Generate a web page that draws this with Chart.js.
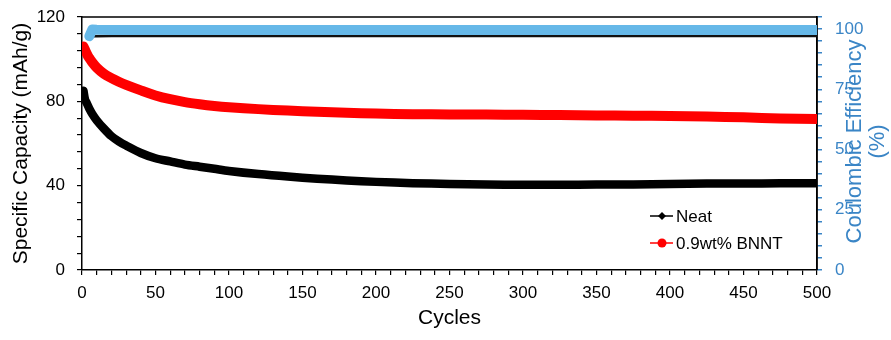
<!DOCTYPE html>
<html><head><meta charset="utf-8">
<script src="https://cdn.jsdelivr.net/npm/chart.js@4.4.1/dist/chart.umd.min.js"></script>
<style>html,body{margin:0;padding:0;background:#fff}</style>
</head><body>
<canvas id="c" width="891" height="340" style="width:891px;height:340px;display:block"></canvas>
<script>
// ---- data ----
const capacityCycles = [1,2,3,4,5,7,10,15,20,25,30,40,50,60,70,80,90,100,120,140,160,180,200,225,250,275,300,325,350,375,400,425,450,475,500];
const neatCapacity   = [85,81,79.5,78,76.5,74,71,67,63.5,61,59,55.5,53,51.5,50,49,48,47,45.5,44.3,43.3,42.5,41.8,41.2,40.8,40.5,40.4,40.4,40.5,40.6,40.8,41,41,41.1,41.1];
const bnntCapacity   = [106,104.5,103,101.5,100.5,98.5,96,93,91,89.3,87.8,85.2,82.8,81,79.6,78.6,77.8,77.2,76.3,75.6,75.1,74.6,74.2,73.9,73.8,73.7,73.6,73.5,73.3,73.2,73.1,72.8,72.4,71.9,71.6];
const ceCycles       = [5,7,10,20,40,70,100,150,200,250,300,350,400,450,500];
const bnntCE         = [97.0,99.8,99.7,99.6,99.6,99.6,99.6,99.6,99.6,99.6,99.6,99.6,99.6,99.6,99.6];
const neatCE         = [96.6,97.0,97.0,97.1,97.1,97.1,97.1,97.1,97.1,97.1,97.1,97.1,97.1,97.1,97.1];
const xTickLabels     = [0,50,100,150,200,250,300,350,400,450,500];
const leftTickLabels  = [0,40,80,120];
const rightTickLabels = [0,25,50,75,100];
const seriesNames = ['Neat','0.9wt% BNNT'];
const axisTitles = {x:'Cycles', left:'Specific Capacity (mAh/g)', right:['Coulombic Efficiency','(%)']};

const BLUE_AXIS = '#3a85c6';
const FONT = "'Liberation Sans', Arial, sans-serif";
const pts = (xs, ys) => xs.map((x, i) => ({x, y: ys[i]}));

const framePlugin = {
  id: 'frame',
  beforeDatasetsDraw(chart) {
    const {ctx, chartArea: a} = chart;
    ctx.save();
    ctx.strokeStyle = '#000';
    ctx.lineWidth = 1.5;
    ctx.beginPath();
    ctx.moveTo(a.left, a.top); ctx.lineTo(a.right, a.top); ctx.lineTo(a.right, a.bottom);
    ctx.stroke();
    ctx.restore();
  },
  afterDraw(chart) {
    const {ctx} = chart;
    ctx.save();
    ctx.fillStyle = BLUE_AXIS;
    ctx.font = '22px ' + FONT;
    ctx.textAlign = 'center';
    ctx.textBaseline = 'middle';
    const a = chart.chartArea;
    const cy = (a.top + a.bottom) / 2 - 2;
    [[855, axisTitles.right[0]], [878, axisTitles.right[1]]].forEach(([x, t]) => {
      ctx.save(); ctx.translate(x, cy); ctx.rotate(-Math.PI / 2); ctx.fillText(t, 0, 0); ctx.restore();
    });
    const items = [
      {name: seriesNames[0], color: '#000', y: 216, shape: 'diamond'},
      {name: seriesNames[1], color: '#ff0000', y: 243, shape: 'circle'}
    ];
    items.forEach(it => {
      ctx.strokeStyle = it.color; ctx.fillStyle = it.color; ctx.lineWidth = 1.5;
      ctx.beginPath(); ctx.moveTo(650, it.y); ctx.lineTo(673, it.y); ctx.stroke();
      ctx.beginPath();
      if (it.shape === 'diamond') {
        ctx.moveTo(662, it.y - 4); ctx.lineTo(666, it.y); ctx.lineTo(662, it.y + 4); ctx.lineTo(658, it.y); ctx.closePath();
      } else {
        ctx.arc(662, it.y, 4.5, 0, Math.PI * 2);
      }
      ctx.fill();
      ctx.fillStyle = '#000';
      ctx.font = '17px ' + FONT;
      ctx.textAlign = 'left';
      ctx.textBaseline = 'middle';
      ctx.fillText(it.name, 676, it.y + 1);
    });
    ctx.restore();
  }
};

const fitV = w => s => { s.width = w; s.paddingTop = 0; s.paddingBottom = 0; };

new Chart(document.getElementById('c'), {
  type: 'line',
  data: {
    datasets: [
      {label: 'BNNT CE', data: pts(ceCycles, bnntCE), yAxisID: 'y2', borderColor: '#66b8e8', borderWidth: 10,
       pointRadius: 0, borderCapStyle: 'round', borderJoinStyle: 'round', tension: 0, order: 1},
      {label: 'Neat CE', data: pts(ceCycles, neatCE), yAxisID: 'y2', borderColor: '#111', borderWidth: 2.5,
       pointRadius: 0, tension: 0, order: 2},
      {label: seriesNames[1], data: pts(capacityCycles, bnntCapacity), yAxisID: 'y', borderColor: '#ff0000', borderWidth: 10,
       pointRadius: 0, borderCapStyle: 'round', borderJoinStyle: 'round', tension: 0.3, order: 3},
      {label: seriesNames[0], data: pts(capacityCycles, neatCapacity), yAxisID: 'y', borderColor: '#000', borderWidth: 8.5,
       pointRadius: 0, borderCapStyle: 'round', borderJoinStyle: 'round', tension: 0.3, order: 4}
    ]
  },
  options: {
    responsive: false,
    animation: false,
    devicePixelRatio: 1,
    layout: {padding: {top: 17, left: 0, right: 0, bottom: 0}},
    plugins: {legend: {display: false}, tooltip: {enabled: false}},
    scales: {
      x: {
        type: 'linear', min: 0, max: 500,
        afterFit: s => { s.height = 70; s.paddingLeft = 0; s.paddingRight = 0; },
        border: {display: true, color: '#000', width: 1.5},
        grid: {display: true, drawOnChartArea: false, drawTicks: true, tickLength: 5, color: '#000', lineWidth: 1.2},
        ticks: {stepSize: 10, autoSkip: false, maxRotation: 0, padding: 8, color: '#000', font: {family: FONT, size: 17},
          callback: v => xTickLabels.includes(v) ? String(v) : ''},
        title: {display: true, text: axisTitles.x, color: '#000', font: {family: FONT, size: 21}, padding: {top: 0, bottom: 9}}
      },
      y: {
        type: 'linear', position: 'left', min: 0, max: 120,
        afterFit: fitV(82),
        border: {display: true, color: '#000', width: 1.5},
        grid: {display: true, drawOnChartArea: false, drawTicks: true, tickLength: 5, color: '#000', lineWidth: 1.2},
        ticks: {stepSize: 8, autoSkip: false, padding: 12, color: '#000', font: {family: FONT, size: 17},
          callback: v => leftTickLabels.includes(v) ? String(v) : ''},
        title: {display: true, text: axisTitles.left, color: '#000', font: {family: FONT, size: 21}, padding: {top: 9, bottom: 0}}
      },
      y2: {
        type: 'linear', position: 'right', min: 0, max: 105,
        afterFit: fitV(74),
        border: {display: true, color: '#000', width: 1.5},
        grid: {display: true, drawOnChartArea: false, drawTicks: true, tickLength: 5, color: BLUE_AXIS, lineWidth: 1.5},
        ticks: {stepSize: 5, autoSkip: false, padding: 13, color: BLUE_AXIS, font: {family: FONT, size: 17},
          callback: v => rightTickLabels.includes(v) ? String(v) : ''}
      }
    }
  },
  plugins: [framePlugin]
});
</script>
</body></html>
